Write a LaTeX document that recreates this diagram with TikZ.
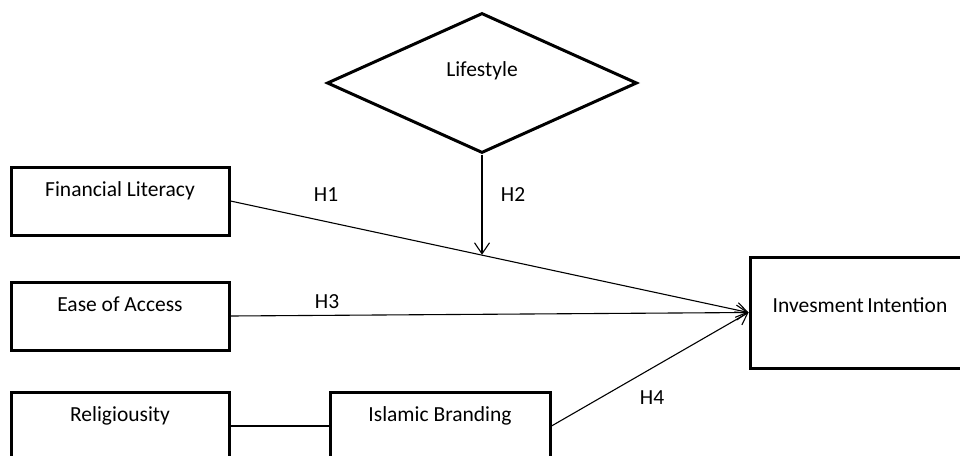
\documentclass[tikz,border=0pt]{standalone}
\usepackage{fontspec}
\setmainfont{Carlito}
\usetikzlibrary{arrows.meta, shapes.geometric, calc}

\begin{document}
\begin{tikzpicture}[x=1pt, y=-1pt,
    font=\fontsize{21.5}{25}\selectfont,
    varbox/.style={draw, rectangle, line width=3pt, minimum width=218pt,
        minimum height=68pt, inner ysep=0pt, text height=29pt, text depth=39pt},
    link/.style={line width=1.1pt},
    arr/.style={link, -{Straight Barb[length=11pt, width=15pt]}}]
    \useasboundingbox (0,0) rectangle (960,455);

    % Left column - predictors
    \node[varbox] (fin) at (120,201) {Financial Literacy};
    \node[varbox] (ease) at (120,316) {Ease of Access};
    \node[varbox] (relig) at (120,426) {Religiousity};
    \node[varbox, minimum width=220pt] (islam) at (440,426) {Islamic Branding};

    % Moderator and outcome
    \node[diamond, draw, line width=3pt, minimum width=310pt, minimum height=140pt,
        inner sep=0pt, text height=14pt, text depth=28pt] (life) at (482,83) {Lifestyle};
    \node[varbox, minimum width=220pt, text height=55pt, text depth=56pt]
        (invest) at (860,312.5) {Invesment\,Intention};

    % Paths
    \coordinate (mod) at ($(fin.east)!0.482!(invest.west)$);
    \draw[arr] (fin.east) -- (invest.west);
    \draw[arr] (ease.east) -- (invest.west);
    \draw[arr] (islam.east) -- (invest.west);
    \draw[link] (relig.east) -- (islam.west);
    \draw[arr] (life.south) -- (life.south |- mod);

    % Hypothesis labels
    \node[anchor=base] (h1) at (326,201) {H1};
    \node[anchor=base] (h2) at (513,201) {H2};
    \node[anchor=base] (h3) at (327,308) {H3};
    \node[anchor=base] (h4) at (652,404) {H4};
\end{tikzpicture}
\end{document}
